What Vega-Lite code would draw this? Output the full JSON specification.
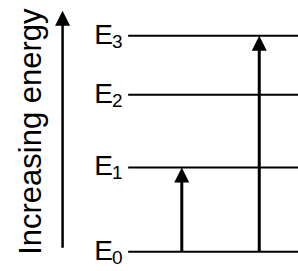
{
  "$schema": "https://vega.github.io/schema/vega-lite/v6.json",
  "width": 298,
  "height": 271,
  "padding": 0,
  "autosize": "none",
  "background": "white",
  "config": {"view": {"stroke": null}},
  "datasets": {
    "levels": [
      {"name": "E", "sub": "0", "e": 0, "xs": 43, "xe": 100, "xl": 37.9},
      {"name": "E", "sub": "1", "e": 8.7, "xs": 43, "xe": 100, "xl": 37.9},
      {"name": "E", "sub": "2", "e": 16.2, "xs": 43, "xe": 100, "xl": 37.9},
      {"name": "E", "sub": "3", "e": 22.3, "xs": 43, "xe": 100, "xl": 37.9}
    ],
    "arrows": [
      {"x": 61, "from": 0, "base": 7.4, "tip": 8.7, "w": 3},
      {"x": 87, "from": 0, "base": 21.0, "tip": 22.3, "w": 3},
      {"x": 21, "from": 0.4, "base": 23.6, "tip": 24.9, "w": 2.5}
    ],
    "title": [{"label": "Increasing energy", "x": 13.8, "e": 12.4}]
  },
  "layer": [
    {
      "data": {"name": "levels"},
      "mark": {"type": "rule", "strokeWidth": 2, "color": "black"},
      "encoding": {
        "x": {"field": "xs", "type": "quantitative", "scale": {"domain": [0, 100]}, "axis": null},
        "x2": {"field": "xe"},
        "y": {"field": "e", "type": "quantitative", "scale": {"domain": [-1.5, 25.6]}, "axis": null}
      }
    },
    {
      "data": {"name": "levels"},
      "mark": {"type": "text", "align": "right", "baseline": "alphabetic", "dy": 8, "fontSize": 28, "font": "Liberation Sans", "color": "black"},
      "encoding": {
        "x": {"field": "xl", "type": "quantitative"},
        "y": {"field": "e", "type": "quantitative"},
        "text": {"field": "name"}
      }
    },
    {
      "data": {"name": "levels"},
      "mark": {"type": "text", "align": "left", "baseline": "alphabetic", "dx": -1, "dy": 12, "fontSize": 19, "font": "Liberation Sans", "color": "black"},
      "encoding": {
        "x": {"field": "xl", "type": "quantitative"},
        "y": {"field": "e", "type": "quantitative"},
        "text": {"field": "sub"}
      }
    },
    {
      "data": {"name": "arrows"},
      "mark": {"type": "rule", "color": "black"},
      "encoding": {
        "x": {"field": "x", "type": "quantitative"},
        "y": {"field": "from", "type": "quantitative"},
        "y2": {"field": "base"},
        "strokeWidth": {"field": "w", "type": "quantitative", "scale": null}
      }
    },
    {
      "data": {"name": "arrows"},
      "mark": {"type": "point", "shape": "M0,0L-0.5,1L0.5,1Z", "filled": true, "color": "black", "opacity": 1, "size": 900, "strokeWidth": 0},
      "encoding": {
        "x": {"field": "x", "type": "quantitative"},
        "y": {"field": "tip", "type": "quantitative"}
      }
    },
    {
      "data": {"name": "title"},
      "mark": {"type": "text", "angle": 270, "align": "center", "baseline": "alphabetic", "fontSize": 31, "font": "Liberation Sans", "color": "black"},
      "encoding": {
        "x": {"field": "x", "type": "quantitative"},
        "y": {"field": "e", "type": "quantitative"},
        "text": {"field": "label"}
      }
    }
  ]
}
